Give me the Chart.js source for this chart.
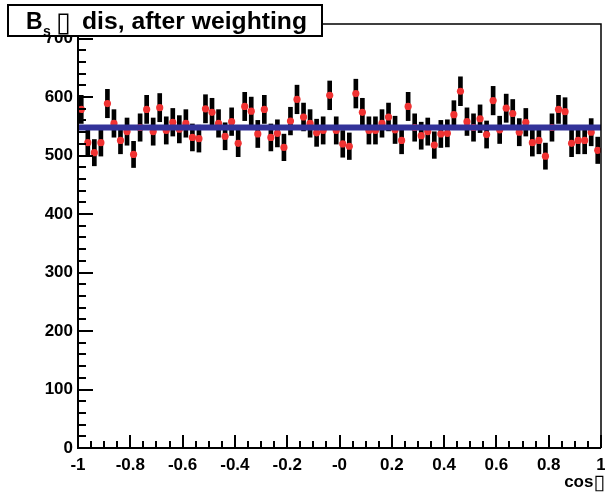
<!DOCTYPE html>
<html>
<head>
<meta charset="utf-8">
<script src="https://cdn.jsdelivr.net/npm/chart.js@4.4.1/dist/chart.umd.min.js"></script>
<style>
  html, body { margin: 0; padding: 0; background: #fff; }
  canvas { display: block; }
</style>
</head>
<body>
<canvas id="c" width="605" height="495"></canvas>
<script>
// Bs phi dis after weighting - cos(theta) histogram, 80 bins from -1 to 1
const xMin = -1;
const xMax = 1;
const nBins = 80;

const counts = [
  579, 522, 505, 522, 589, 555, 526, 541, 502, 548,
  579, 541, 582, 543, 557, 545, 555, 531, 529, 580,
  574, 555, 533, 558, 521, 584, 576, 537, 579, 531,
  538, 514, 559, 596, 566, 555, 539, 543, 603, 543,
  520, 516, 606, 574, 543, 543, 555, 566, 544, 526,
  584, 548, 534, 541, 518, 537, 538, 570, 610, 558,
  548, 563, 536, 594, 544, 581, 572, 540, 557, 522,
  526, 499, 548, 579, 575, 521, 526, 526, 540, 509,
];

const fitValue = 548;   // flat fit (p0)

const xTickValues = [-1, -0.8, -0.6, -0.4, -0.2, 0, 0.2, 0.4, 0.6, 0.8, 1];
const xTickLabels = ['-1', '-0.8', '-0.6', '-0.4', '-0.2', '-0', '0.2', '0.4', '0.6', '0.8', '1'];
const yTickValues = [0, 100, 200, 300, 400, 500, 600, 700];
const yMax = 725;

const titleB = 'B';
const titleSub = 's';
const titleGlyph = '\u25AF';
const titleRest = 'dis, after weighting';
const xTitle = 'cos';

const binWidth = (xMax - xMin) / nBins;
const centers = counts.map((_, i) => xMin + binWidth * (i + 0.5));
const errs = counts.map(v => Math.sqrt(v));   // poisson errors

const FONT = '"Liberation Sans", Arial, Helvetica, sans-serif';
Chart.defaults.font.family = FONT;

// ROOT-ish frame: inward ticks, title box, axis title
const rootStyle = {
  id: 'rootStyle',
  afterDraw(chart) {
    const { ctx, chartArea: a, scales: { x, y } } = chart;
    ctx.save();
    ctx.strokeStyle = '#000';

    ctx.lineWidth = 1.5;
    ctx.beginPath();
    ctx.moveTo(a.left, a.top);
    ctx.lineTo(a.right, a.top);
    ctx.lineTo(a.right, a.bottom);
    ctx.stroke();

    ctx.lineWidth = 2;
    ctx.beginPath();
    ctx.moveTo(a.left, a.top);
    ctx.lineTo(a.left, a.bottom);
    ctx.lineTo(a.right, a.bottom);
    ctx.stroke();

    // y ticks: major 100, minor 20
    ctx.beginPath();
    for (let v = 0; v <= yMax; v += 20) {
      const py = Math.round(y.getPixelForValue(v));
      const len = v % 100 === 0 ? 15 : 8;
      ctx.moveTo(a.left, py);
      ctx.lineTo(a.left + len, py);
    }
    // x ticks: major 0.2, minor 0.05
    for (let i = 0; i <= 40; i++) {
      const px = Math.round(x.getPixelForValue(xMin + i * 0.05));
      const len = i % 4 === 0 ? 13 : 7;
      ctx.moveTo(px, a.bottom);
      ctx.lineTo(px, a.bottom - len);
    }
    ctx.stroke();

    // title box
    ctx.fillStyle = '#fff';
    ctx.fillRect(8, 5, 314, 31);
    ctx.lineWidth = 2;
    ctx.strokeRect(8, 5, 314, 31);
    ctx.fillStyle = '#000';
    ctx.textBaseline = 'alphabetic';
    ctx.textAlign = 'left';
    ctx.font = 'bold 23px ' + FONT;
    ctx.fillText(titleB, 26, 29);
    ctx.font = 'bold 14px ' + FONT;
    ctx.fillText(titleSub, 43, 36);
    ctx.font = '27px "DejaVu Sans"';
    ctx.fillText(titleGlyph, 56, 31);
    ctx.font = 'bold 23px ' + FONT;
    const w = ctx.measureText(titleRest).width;
    ctx.save();
    ctx.translate(82, 29);
    ctx.scale(225 / w, 1);
    ctx.fillText(titleRest, 0, 0);
    ctx.restore();

    // x axis title
    ctx.font = '21px "DejaVu Sans"';
    const gw = ctx.measureText(titleGlyph).width;
    ctx.textAlign = 'right';
    ctx.fillText(titleGlyph, 605, 489);
    ctx.font = 'bold 17px ' + FONT;
    ctx.fillText(xTitle, 605 - gw, 487);
    ctx.restore();
  }
};

new Chart(document.getElementById('c'), {
  type: 'bar',
  data: {
    datasets: [
      {
        type: 'line',
        data: [{ x: xMin, y: fitValue }, { x: xMax, y: fitValue }],
        borderColor: 'rgb(51, 51, 153)',
        borderWidth: 6,
        pointRadius: 0,
        order: 0,
      },
      {
        type: 'scatter',
        data: centers.map((c, i) => ({ x: c, y: counts[i] })),
        backgroundColor: 'rgb(240, 50, 50)',
        borderWidth: 0,
        pointRadius: 3.6,
        order: 1,
      },
      {
        type: 'bar',
        data: centers.map((c, i) => ({ x: c, y: [counts[i] - errs[i], counts[i] + errs[i]] })),
        backgroundColor: '#000',
        borderWidth: 0,
        barThickness: 4,
        grouped: false,
        order: 2,
      },
    ],
  },
  options: {
    responsive: false,
    animation: false,
    events: [],
    layout: { padding: { left: 0, right: 3, top: 24, bottom: 0 } },
    plugins: {
      legend: { display: false },
      tooltip: { enabled: false },
      title: { display: false },
    },
    scales: {
      x: {
        type: 'linear',
        min: xMin,
        max: xMax,
        offset: false,
        grid: { display: false, drawTicks: false },
        border: { display: false },
        afterBuildTicks: s => { s.ticks = xTickValues.map(v => ({ value: v })); },
        afterFit: s => { s.height = 47; s.paddingLeft = 0; s.paddingRight = 0; },
        ticks: {
          padding: 7,
          color: '#000',
          maxRotation: 0,
          autoSkip: false,
          font: { size: 17, weight: 'bold' },
          callback: (v, i) => xTickLabels[i],
        },
      },
      y: {
        type: 'linear',
        min: 0,
        max: yMax,
        grid: { display: false, drawTicks: false },
        border: { display: false },
        afterBuildTicks: s => { s.ticks = yTickValues.map(v => ({ value: v })); },
        afterFit: s => { s.width = 78; s.paddingTop = 0; s.paddingBottom = 0; },
        ticks: {
          padding: 5,
          color: '#000',
          autoSkip: false,
          font: { size: 17, weight: 'bold' },
          callback: v => String(v),
        },
      },
    },
  },
  plugins: [rootStyle],
});
</script>
</body>
</html>
